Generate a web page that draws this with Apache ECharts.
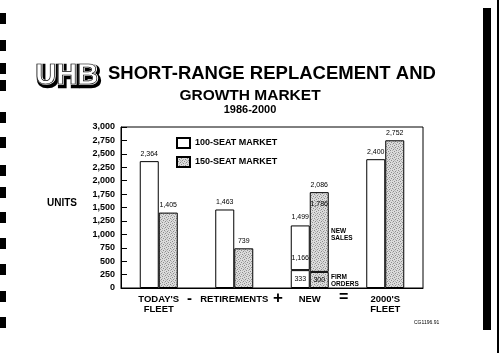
<!DOCTYPE html>
<html>
<head>
<meta charset="utf-8">
<script src="https://cdn.jsdelivr.net/npm/echarts@6/dist/echarts.min.js"></script>
<style>
  html, body { margin: 0; padding: 0; background: #fff; }
  #main { width: 500px; height: 353px; }
</style>
</head>
<body>
<div id="main"></div>
<script>
// values
let categories = ["TODAY'S\nFLEET", 'RETIREMENTS', 'NEW', "2000'S\nFLEET"];
let seat100 = [2364, 1463, 1166, 2400];   // drawn bar heights
let seat150 = [1405, 739, 1786, 2752];
let firmOrders100 = 333;                  // bottom segment of the NEW bars
let firmOrders150 = 300;
let newTotalLabels = ['1,499', '2,086'];  // printed above the NEW bars
let yTicks = [0, 3000, 250];              // min, max, step
let newIdx = 2;

// stipple fill for the 150-seat bars
function stipple() {
    let c = document.createElement('canvas');
    c.width = 6; c.height = 6;
    let ctx = c.getContext('2d');
    ctx.fillStyle = '#dcdcdc';
    ctx.fillRect(0, 0, 6, 6);
    ctx.fillStyle = '#8c8c8c';
    [[0, 0], [4, 1], [2, 2], [5, 3], [1, 4], [3, 5]].forEach(p => ctx.fillRect(p[0], p[1], 1, 1));
    ctx.fillStyle = '#b4b4b4';
    [[2, 0], [0, 2], [4, 4], [5, 5], [3, 3]].forEach(p => ctx.fillRect(p[0], p[1], 1, 1));
    return c;
}
let shade = { image: stipple(), repeat: 'repeat' };

let fmt = v => Number(v).toLocaleString('en-US');

// base segments (firm orders for NEW), upper segments only for NEW
function baseData(arr, firm) {
    return arr.map((v, i) => i === newIdx
        ? { value: firm, label: { position: 'inside', distance: 0 } }
        : v);
}
function upperData(arr, firm) {
    return arr.map((v, i) => i === newIdx ? v - firm : null);
}
function totalData(text) {
    return categories.map((c, i) => i === newIdx ? { value: 0, label: { formatter: text } } : null);
}

let barW = 19;
let lbl = { show: true, position: 'top', distance: 4, fontSize: 7, color: '#000', formatter: p => fmt(p.value) };
let white = { color: '#fff', borderColor: '#000', borderWidth: 1 };
let grey = { color: shade, borderColor: '#000', borderWidth: 1 };
let logoFont = 'bold 29px "Liberation Sans"';

let myChart = echarts.init(document.getElementById('main'));
let option = {
    animation: false,
    textStyle: { fontFamily: 'Liberation Sans', color: '#000' },
    grid: {
        left: 121, right: 77, top: 127, bottom: 65,
        show: true, borderColor: '#000', borderWidth: 1
    },
    legend: {
        data: ['100-SEAT MARKET', '150-SEAT MARKET'],
        orient: 'vertical',
        left: 171, top: 132,
        itemWidth: 13, itemHeight: 10, itemGap: 7,
        icon: 'rect',
        selectedMode: false,
        textStyle: { fontSize: 9, fontWeight: 'bold', color: '#000', fontFamily: 'Liberation Sans' }
    },
    xAxis: {
        type: 'category',
        data: categories,
        axisLine: { lineStyle: { color: '#000' } },
        axisTick: { show: false },
        axisLabel: { interval: 0, fontSize: 9.5, fontWeight: 'bold', lineHeight: 10, margin: 6, color: '#000' }
    },
    yAxis: {
        type: 'value',
        min: yTicks[0], max: yTicks[1], interval: yTicks[2],
        axisLine: { show: true, lineStyle: { color: '#000' } },
        axisTick: { show: true, inside: true, length: 6, lineStyle: { color: '#000' } },
        splitLine: { show: false },
        axisLabel: { fontSize: 9, fontWeight: 'bold', margin: 6, color: '#000', formatter: fmt }
    },
    series: [{
        name: '100-SEAT MARKET', type: 'bar', stack: 'a', stackStrategy: 'all',
        barWidth: barW, barGap: '0%',
        data: baseData(seat100, firmOrders100),
        itemStyle: white, label: lbl
    }, {
        name: '100-SEAT MARKET', type: 'bar', stack: 'a', stackStrategy: 'all',
        barWidth: barW, barGap: '0%',
        data: upperData(seat100, firmOrders100),
        itemStyle: white,
        label: Object.assign({}, lbl, { position: 'insideBottom', distance: 9, formatter: () => fmt(seat100[newIdx]) })
    }, {
        name: 'total100', type: 'bar', stack: 'a', stackStrategy: 'all',
        barWidth: barW, barGap: '0%',
        data: totalData(newTotalLabels[0]),
        itemStyle: { color: 'transparent', borderWidth: 0 },
        label: Object.assign({}, lbl, { distance: 5 })
    }, {
        name: '150-SEAT MARKET', type: 'bar', stack: 'b', stackStrategy: 'all',
        barWidth: barW, barGap: '0%',
        data: baseData(seat150, firmOrders150),
        itemStyle: grey, label: lbl
    }, {
        name: '150-SEAT MARKET', type: 'bar', stack: 'b', stackStrategy: 'all',
        barWidth: barW, barGap: '0%',
        data: upperData(seat150, firmOrders150),
        itemStyle: grey,
        label: Object.assign({}, lbl, { position: 'insideTop', distance: 8, formatter: () => fmt(seat150[newIdx]) })
    }, {
        name: 'total150', type: 'bar', stack: 'b', stackStrategy: 'all',
        barWidth: barW, barGap: '0%',
        data: totalData(newTotalLabels[1]),
        itemStyle: { color: 'transparent', borderWidth: 0 },
        label: Object.assign({}, lbl, { distance: 4 })
    }],
    graphic: [
        // outlined logo: heavy outer ring, white gap, thin inner line
        { type: 'text', left: 35, top: 61, style: { text: 'UHB', font: logoFont, fill: '#000', stroke: '#000', lineWidth: 4.5 } },
        { type: 'text', left: 35, top: 61, style: { text: 'UHB', font: logoFont, fill: '#fff', stroke: '#fff', lineWidth: 1.6 } },
        { type: 'text', left: 35, top: 61, style: { text: 'UHB', font: logoFont, fill: 'none', stroke: '#000', lineWidth: 0.7 } },
        { type: 'text', left: 108, top: 64, style: { text: 'SHORT-RANGE REPLACEMENT AND', font: 'bold 18.5px "Liberation Sans"', fill: '#000' } },
        { type: 'text', left: 'center', top: 88, style: { text: 'GROWTH MARKET', font: 'bold 15.5px "Liberation Sans"', fill: '#000' } },
        { type: 'text', left: 'center', top: 104, style: { text: '1986-2000', font: 'bold 11px "Liberation Sans"', fill: '#000' } },
        { type: 'text', left: 47, top: 198, style: { text: 'UNITS', font: 'bold 10px "Liberation Sans"', fill: '#000' } },
        // notes next to the NEW bars
        { type: 'text', left: 331, top: 228, style: { text: 'NEW\nSALES', font: 'bold 6.5px "Liberation Sans"', lineHeight: 7, fill: '#000' } },
        { type: 'text', left: 331, top: 274, style: { text: 'FIRM\nORDERS', font: 'bold 6.5px "Liberation Sans"', lineHeight: 7, fill: '#000' } },
        // equation signs between the category labels
        { type: 'text', left: 187, top: 291, style: { text: '-', font: 'bold 15px "Liberation Sans"', fill: '#000' } },
        { type: 'text', left: 273, top: 290, style: { text: '+', font: 'bold 17px "Liberation Sans"', fill: '#000' } },
        { type: 'text', left: 339, top: 290, style: { text: '=', font: 'bold 16px "Liberation Sans"', fill: '#000' } },
        { type: 'text', left: 414, top: 320, style: { text: 'CG1196.91', font: '5px "Liberation Sans"', fill: '#000' } }
    ]
};

// scan edges: binder holes on the left, dark page edge on the right
[13, 40, 63, 80, 112, 137, 165, 187, 212, 238, 264, 291, 317].forEach(y => {
    option.graphic.push({ type: 'rect', shape: { x: 0, y: y, width: 6, height: 11 }, style: { fill: '#000' } });
});
option.graphic.push({ type: 'rect', shape: { x: 483, y: 8, width: 8, height: 322 }, style: { fill: '#000' } });
option.graphic.push({ type: 'rect', shape: { x: 497, y: 0, width: 2, height: 353 }, style: { fill: '#000' } });

myChart.setOption(option);
</script>
</body>
</html>
